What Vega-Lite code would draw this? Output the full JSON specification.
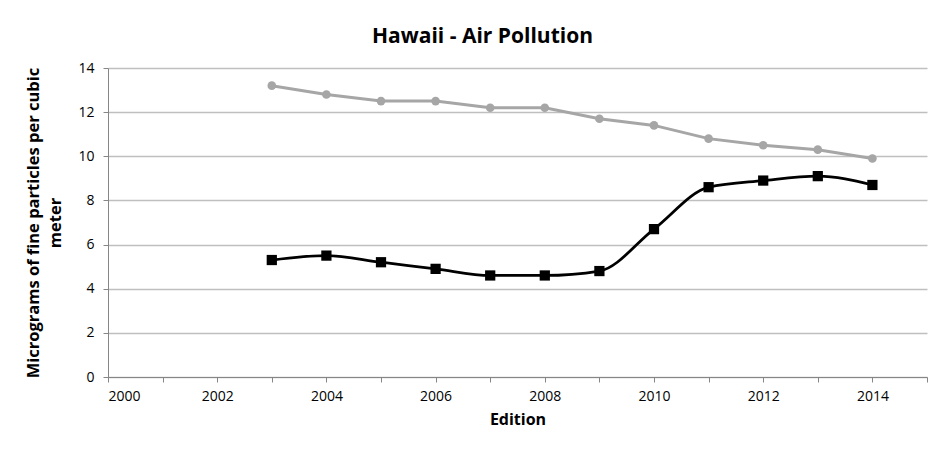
{
  "$schema": "https://vega.github.io/schema/vega-lite/v6.json",
  "width": 819,
  "height": 309,
  "autosize": {"type": "none"},
  "padding": {"left": 108, "top": 68, "right": 22, "bottom": 73},
  "background": "white",
  "title": {
    "text": "Hawaii - Air Pollution",
    "font": "Open Sans",
    "fontSize": 21,
    "fontWeight": "bold",
    "color": "#000000",
    "anchor": "middle",
    "dx": -35,
    "offset": 14
  },
  "data": {
    "values": [
      {"year": 2003, "series": "A", "value": 13.2},
      {"year": 2004, "series": "A", "value": 12.8},
      {"year": 2005, "series": "A", "value": 12.5},
      {"year": 2006, "series": "A", "value": 12.5},
      {"year": 2007, "series": "A", "value": 12.2},
      {"year": 2008, "series": "A", "value": 12.2},
      {"year": 2009, "series": "A", "value": 11.7},
      {"year": 2010, "series": "A", "value": 11.4},
      {"year": 2011, "series": "A", "value": 10.8},
      {"year": 2012, "series": "A", "value": 10.5},
      {"year": 2013, "series": "A", "value": 10.3},
      {"year": 2014, "series": "A", "value": 9.9},
      {"year": 2003, "series": "B", "value": 5.3},
      {"year": 2004, "series": "B", "value": 5.5},
      {"year": 2005, "series": "B", "value": 5.2},
      {"year": 2006, "series": "B", "value": 4.9},
      {"year": 2007, "series": "B", "value": 4.6},
      {"year": 2008, "series": "B", "value": 4.6},
      {"year": 2009, "series": "B", "value": 4.8},
      {"year": 2010, "series": "B", "value": 6.7},
      {"year": 2011, "series": "B", "value": 8.6},
      {"year": 2012, "series": "B", "value": 8.9},
      {"year": 2013, "series": "B", "value": 9.1},
      {"year": 2014, "series": "B", "value": 8.7}
    ]
  },
  "encoding": {
    "x": {
      "field": "year",
      "type": "quantitative",
      "scale": {"domain": [2000, 2015], "nice": false, "zero": false},
      "axis": {
        "title": "Edition",
        "titleFont": "Open Sans",
        "titleFontSize": 16,
        "titleFontWeight": "bold",
        "titleColor": "#000000",
        "titlePadding": 8,
        "values": [2000, 2001, 2002, 2003, 2004, 2005, 2006, 2007, 2008, 2009, 2010, 2011, 2012, 2013, 2014, 2015],
        "labelExpr": "datum.value % 2 == 0 && datum.value < 2015 ? datum.value : ''",
        "labelFont": "Open Sans",
        "labelFontSize": 14,
        "labelColor": "#000000",
        "labelPadding": 7,
        "grid": false,
        "domainColor": "#868686",
        "tickColor": "#868686",
        "tickSize": 5
      }
    },
    "y": {
      "field": "value",
      "type": "quantitative",
      "scale": {"domain": [0, 14], "nice": false},
      "axis": {
        "title": ["Micrograms of fine particles per cubic", "meter"],
        "titleFont": "Open Sans",
        "titleFontSize": 16.5,
        "titleFontWeight": "bold",
        "titleColor": "#000000",
        "titlePadding": 14,
        "titleLineHeight": 22,
        "values": [0, 2, 4, 6, 8, 10, 12, 14],
        "labelFont": "Open Sans",
        "labelFontSize": 14,
        "labelColor": "#000000",
        "labelPadding": 9,
        "grid": true,
        "gridColor": "#bfbfbf",
        "gridWidth": 1.5,
        "domainColor": "#868686",
        "tickColor": "#868686",
        "tickSize": 5
      }
    }
  },
  "layer": [
    {
      "transform": [{"filter": "datum.series == 'A'"}],
      "mark": {"type": "line", "color": "#a6a6a6", "strokeWidth": 3},
      "encoding": {}
    },
    {
      "transform": [{"filter": "datum.series == 'A'"}],
      "mark": {"type": "point", "shape": "circle", "filled": true, "color": "#a6a6a6", "opacity": 1, "size": 75},
      "encoding": {}
    },
    {
      "transform": [{"filter": "datum.series == 'B'"}],
      "mark": {"type": "line", "color": "#000000", "strokeWidth": 2.75, "interpolate": "monotone"},
      "encoding": {}
    },
    {
      "transform": [{"filter": "datum.series == 'B'"}],
      "mark": {"type": "point", "shape": "square", "filled": true, "color": "#000000", "opacity": 1, "size": 105},
      "encoding": {}
    }
  ],
  "config": {
    "view": {"stroke": null}
  }
}
